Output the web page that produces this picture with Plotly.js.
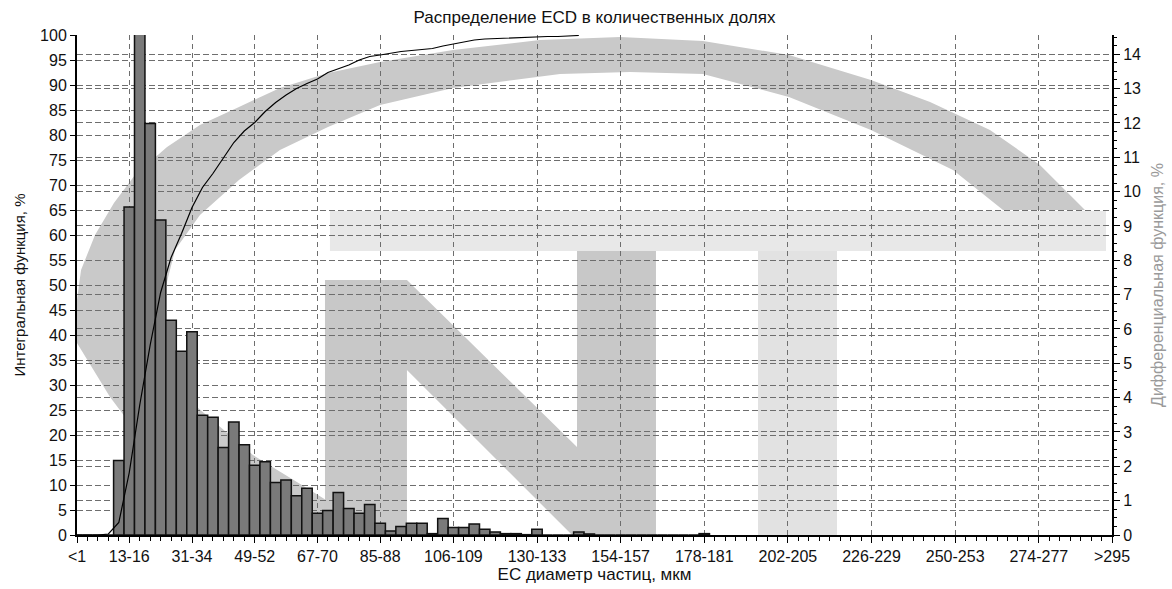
<!DOCTYPE html>
<html>
<head>
<meta charset="utf-8">
<script src="https://cdn.plot.ly/plotly-3.0.1.min.js"></script>
<style>
  html, body { margin: 0; padding: 0; background: #fff; }
  #chart { width: 1172px; height: 589px; }
</style>
</head>
<body>
<div id="chart"></div>
<script>
// ---- data ----
const tickBins   = [0, 5, 11, 17, 23, 29, 36, 44, 52, 60, 68, 76, 84, 92, 99];
const tickLabels = ["&lt;1", "13-16", "31-34", "49-52", "67-70", "85-88", "106-109", "130-133",
                    "154-157", "178-181", "202-205", "226-229", "250-253", "274-277", "&gt;295"];

// differential function, % (right axis), one value per size bin starting at bin "<1"
const diffPct = [
  0, 0, 0, 0, 2.17, 9.55, 16.2, 11.98, 9.17, 6.25,
  5.35, 5.92, 3.49, 3.43, 2.55, 3.29, 2.63, 2.03, 2.13, 1.53,
  1.60, 1.14, 1.36, 0.63, 0.71, 1.24, 0.77, 0.63, 0.89, 0.34,
  0.12, 0.25, 0.34, 0.34, 0.04, 0.48, 0.22, 0.22, 0.32, 0.17,
  0.09, 0.04, 0.04, 0.01, 0.17, 0, 0, 0, 0.09, 0.03,
  0, 0, 0, 0, 0, 0, 0, 0, 0, 0, 0.04
];

// integral (cumulative) function, % (left axis), one value per bin starting at bin "<1"
const cumPct = [
  0, 0, 0, 0.2, 2.5, 12.5, 26, 38, 48.5, 55.5,
  60.3, 65.5, 69.5, 72.3, 75.3, 78.5, 80.8, 82.5, 84.7, 86.5,
  88, 89.3, 90.3, 91.2, 92.5, 93.2, 94, 95, 95.7, 96,
  96.4, 96.7, 96.9, 97.1, 97.3, 97.8, 98.2, 98.6, 99, 99.2,
  99.3, 99.4, 99.4, 99.5, 99.6, 99.7, 99.7, 99.8, 99.9
];

const diffBins = diffPct.map((_, i) => i);
const cumBins  = cumPct.map((_, i) => i);

// ---- background watermark (decoration only, pixel outline of the logo) ----
const PLOT = { l: 77, r: 1112, t: 35, b: 535 };
const wmSwoosh = [
  [1085,210],[1040,165],[990,130],[930,102],[871,80],[789,55],[703,41],[620,37],[540,40],[453,50],
  [380,62],[328,73],[280,88],[239,107],[200,125],[167,147],[135,175],[114,203],[95,235],[81,270],
  [77,300],[77,343],[110,397],[150,450],[190,500],[222,535],[326,535],[326,500],
  [310,490],[253,455],[197,407],[175,370],[165,330],[165,290],[175,250],[200,215],[239,180],
  [280,150],[328,127],[380,105],[453,88],[560,74],[630,72],[703,74],[789,97],[871,130],[953,170],[1003,210]
];
const wmN = [[325,535],[325,280],[407,280],[577,447],[577,251],[656,251],[656,535],[572,535],[407,370],[407,535]];
const wmTbar  = [[330,211],[1106,211],[1106,251],[330,251]];
const wmTstem = [[758,251],[837,251],[837,535],[758,535]];

function toPath(pts) {
  const w = PLOT.r - PLOT.l, h = PLOT.b - PLOT.t;
  return pts.map((p, i) => (i ? 'L' : 'M') + ((p[0] - PLOT.l) / w).toFixed(4) + ',' + ((PLOT.b - p[1]) / h).toFixed(4)).join(' ') + ' Z';
}
function wmShape(pts, color) {
  return { type: 'path', xref: 'paper', yref: 'paper', layer: 'below', path: toPath(pts),
           fillcolor: color, line: { width: 0 } };
}

const FONT = "'Liberation Sans', Arial, sans-serif";
const GRID = '#6e6e6e';

const traces = [
  {
    type: 'bar', x: diffBins, y: diffPct, yaxis: 'y', width: 1,
    marker: { color: '#7a7a7a', line: { color: '#111', width: 1.5 } },
    hoverinfo: 'x+y', name: 'Дифференциальная функция'
  },
  {
    type: 'scatter', mode: 'lines', x: cumBins, y: cumPct, yaxis: 'y2',
    line: { color: '#000', width: 1.2 }, name: 'Интегральная функция'
  }
];

const layout = {
  width: 1172, height: 589,
  margin: { l: PLOT.l, r: 1172 - PLOT.r, t: PLOT.t, b: 589 - PLOT.b },
  paper_bgcolor: '#fff', plot_bgcolor: 'rgba(0,0,0,0)',
  showlegend: false, bargap: 0,
  font: { family: FONT, size: 16, color: '#111' },
  title: {
    text: 'Распределение ECD в количественных долях',
    font: { family: FONT, size: 17, color: '#111' },
    xref: 'paper', x: 0.5, xanchor: 'center',
    yref: 'container', y: 1 - 17 / 589, yanchor: 'middle'
  },
  xaxis: {
    range: [0, 99], tickmode: 'array', tickvals: tickBins, ticktext: tickLabels,
    ticks: 'outside', ticklen: 6, tickwidth: 1, tickcolor: '#000',
    tickfont: { family: FONT, size: 16, color: '#111' },
    showgrid: true, gridcolor: GRID, gridwidth: 1, griddash: '5px,4px',
    showline: true, linecolor: '#000', linewidth: 2, zeroline: false,
    minor: { tickmode: 'linear', tick0: 0, dtick: 1, ticks: 'outside', ticklen: 4, tickcolor: '#000', showgrid: false },
    title: { text: 'EC диаметр частиц, мкм', font: { family: FONT, size: 17, color: '#111' }, standoff: 3 },
    automargin: false
  },
  yaxis: {
    side: 'right', range: [0, 14.56], tickmode: 'linear', tick0: 0, dtick: 1,
    ticks: 'outside', ticklen: 6, tickcolor: '#000',
    tickfont: { family: FONT, size: 16, color: '#111' },
    showgrid: true, gridcolor: GRID, gridwidth: 1, griddash: '6px,3px',
    showline: true, linecolor: '#000', linewidth: 2, zeroline: false,
    minor: { tickmode: 'linear', tick0: 0, dtick: 0.25, ticks: 'outside', ticklen: 3, tickcolor: '#000', showgrid: false },
    title: { text: 'Дифференциальная функция, %', font: { family: FONT, size: 16, color: '#9a9a9a' }, standoff: 12 },
    automargin: false
  },
  yaxis2: {
    overlaying: 'y', side: 'left', range: [0, 100], tickmode: 'linear', tick0: 0, dtick: 5,
    ticks: 'outside', ticklen: 5, tickcolor: '#000',
    tickfont: { family: FONT, size: 16, color: '#111' },
    showgrid: true, gridcolor: GRID, gridwidth: 1, griddash: '6px,3px',
    showline: true, linecolor: '#000', linewidth: 2, zeroline: false,
    title: { text: 'Интегральная функция, %', font: { family: FONT, size: 15, color: '#111' }, standoff: 11 },
    automargin: false
  },
  shapes: [
    wmShape(wmTbar, '#e8e8e8'),
    wmShape(wmTstem, '#e2e2e2'),
    wmShape(wmSwoosh, '#c9c9c9'),
    wmShape(wmN, '#c8c8c8')
  ]
};

Plotly.newPlot('chart', traces, layout, { displayModeBar: false, staticPlot: true });
</script>
</body>
</html>
